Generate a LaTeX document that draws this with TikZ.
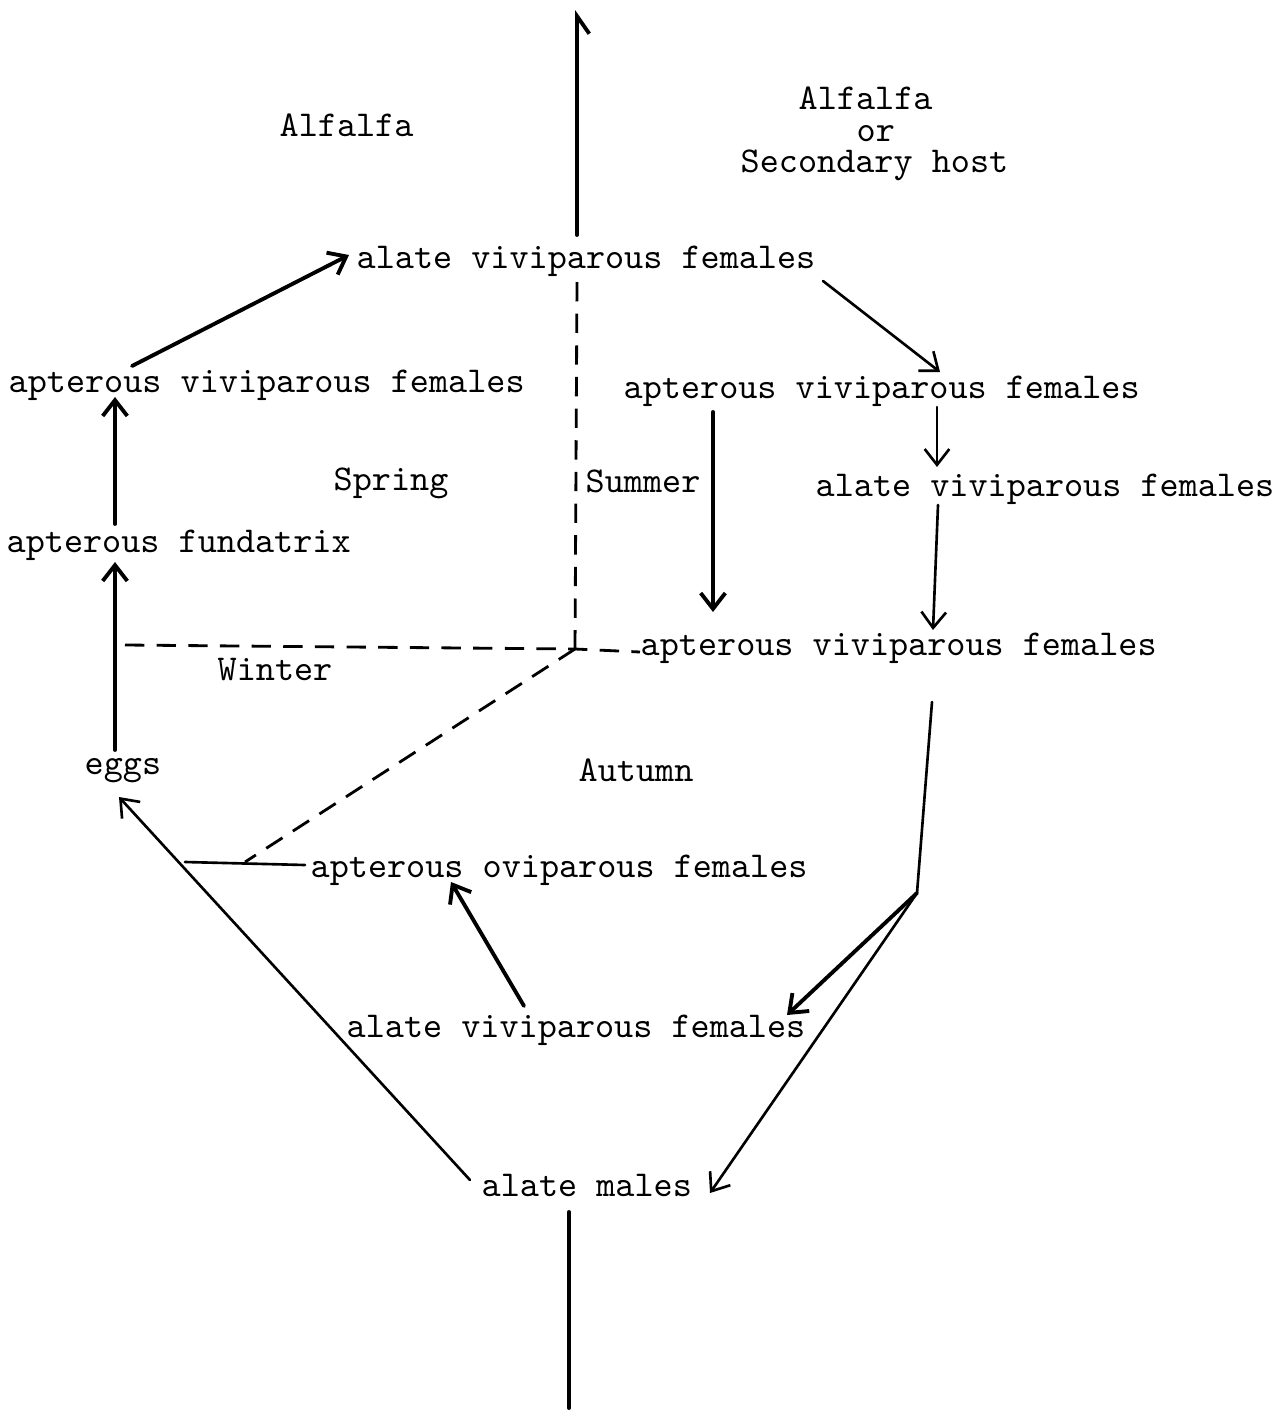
\documentclass[tikz,border=0pt]{standalone}
\usepackage{fontspec}
\usetikzlibrary{arrows.meta}
\begin{document}
\begin{tikzpicture}[x=0.01cm,y=-0.01cm,
  lbl/.style={anchor=base west,inner sep=0pt,font=\ttfamily\fontsize{10.35}{12}\selectfont\addfontfeatures{FakeBold=0.6}},
  conn/.style={line width=0.75pt,line cap=round},
  thickconn/.style={line width=1.1pt,line cap=round},
  arr/.style={conn,-{Straight Barb[length=4.5pt,width=7pt,line width=0.75pt]}},
  thickarr/.style={thickconn,-{Straight Barb[length=4.5pt,width=7pt,line width=1.1pt]}},
  dsh/.style={line width=0.8pt,dash pattern=on 5.5pt off 3.5pt}]
\useasboundingbox (0,0) rectangle (1273,1412);
% labels
\node[lbl] (alfL) at (279,136) {Alfalfa};
\node[lbl] (alfR) at (798,109) {Alfalfa};
\node[lbl] (orR) at (856,141) {or};
\node[lbl] (secR) at (740,172) {Secondary host};
\node[lbl] (avfTop) at (356,268) {alate viviparous females};
\node[lbl] (apvL) at (8,392) {apterous viviparous females};
\node[lbl] (apvR) at (623,398) {apterous viviparous females};
\node[lbl] (spring) at (333,490) {Spring};
\node[lbl] (summer) at (585,492) {Summer};
\node[lbl] (avfR) at (815,496) {alate viviparous females};
\node[lbl] (fund) at (6,552) {apterous fundatrix};
\node[lbl] (apvM) at (640,655) {apterous viviparous females};
\node[lbl] (winter) at (217,680) {Winter};
\node[lbl] (eggs) at (84,774) {eggs};
\node[lbl] (autumn) at (578,781) {Autumn};
\node[lbl] (apo) at (310,877) {apterous oviparous females};
\node[lbl] (avfB) at (346,1037) {alate viviparous females};
\node[lbl] (males) at (481,1196) {alate males};
% coordinates (connector ends beside the labels)
\coordinate (topEnd) at (577,10);
\coordinate (topStart) at (577,235);
\coordinate (botStart) at (569,1212);
\coordinate (botEnd) at (569,1408);
\coordinate (centre) at (575,649);
\coordinate (vdTop) at (577,282);
\coordinate (hdLeft) at (125,645);
\coordinate (hdRight) at (640,652);
\coordinate (diagEnd) at (245,862);
\coordinate (junc) at (185,862);
\coordinate (bend) at (917,893);
\coordinate (apvLout) at (132,366);
\coordinate (avfTopIn) at (349,255);
\coordinate (fundOut) at (115,524);
\coordinate (apvLin) at (115,397);
\coordinate (eggsOut) at (115,750);
\coordinate (fundIn) at (115,562);
\coordinate (avfTopOut) at (823,281);
\coordinate (apvRin) at (940,372);
\coordinate (apvRout) at (937,407);
\coordinate (avfRin) at (937,467);
\coordinate (avfRout) at (938,505);
\coordinate (apvMin) at (933,630);
\coordinate (apvRout2) at (713,412);
\coordinate (apvMin2) at (713,612);
\coordinate (apvMout) at (932,702);
\coordinate (avfBin) at (787,1015);
\coordinate (malesIn) at (710,1193);
\coordinate (avfBout) at (524,1006);
\coordinate (apoIn) at (451,882);
\coordinate (malesOut) at (470,1180);
\coordinate (eggsIn) at (119,797);
\coordinate (apoOut) at (305,865);
% solid connectors
\draw[thickconn,-{Straight Barb[right,length=5pt,width=7pt,line width=1.1pt]}] (topStart) -- (topEnd);
\draw[thickconn] (botStart) -- (botEnd);
\draw[thickarr] (apvLout) -- (avfTopIn);
\draw[thickarr] (fundOut) -- (apvLin);
\draw[thickarr] (eggsOut) -- (fundIn);
\draw[arr] (avfTopOut) -- (apvRin);
\draw[arr] (apvRout) -- (avfRin);
\draw[arr] (avfRout) -- (apvMin);
\draw[thickarr] (apvRout2) -- (apvMin2);
\draw[conn] (apvMout) -- (bend);
\draw[thickarr] (bend) -- (avfBin);
\draw[arr] (bend) -- (malesIn);
\draw[thickarr] (avfBout) -- (apoIn);
\draw[arr] (malesOut) -- (eggsIn);
\draw[conn] (apoOut) -- (junc);
% dashed
\draw[dsh] (vdTop) -- (centre);
\draw[dsh] (hdLeft) -- (centre) -- (hdRight);
\draw[dsh] (centre) -- (diagEnd);
\end{tikzpicture}
\end{document}
